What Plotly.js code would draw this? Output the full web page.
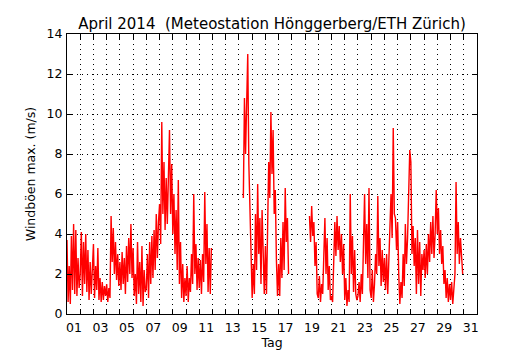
<!DOCTYPE html>
<html>
<head>
<meta charset="utf-8">
<script src="https://cdn.plot.ly/plotly-3.0.1.min.js"></script>
<style>html,body{margin:0;padding:0;background:#fff;}#chart{width:530px;height:350px;}</style>
</head>
<body>
<div id="chart"></div>
<script>
// Maximum wind gust (m/s), read every 2 hours, Apr 1 00:00 .. Apr 30 22:00 (null = no data)
const stepHours = 2;
const firstDay = 1;
const gustMax = [
  3.7, 0.6, 2.4, 0.5, 3.9, 1.2, 4.5, 1.0, 4.2, 0.9, 2.8, 1.3,   // 01
  2.0, 4.1, 0.9, 3.6, 1.5, 4.0, 1.1, 3.2, 0.7, 2.6, 1.0, 2.2,   // 02
  3.5, 0.8, 2.4, 1.2, 3.3, 0.7, 1.8, 0.6, 1.6, 0.7, 1.4, 0.9,   // 03
  1.5, 0.6, 1.3, 0.8, 4.9, 2.6, 4.3, 2.0, 3.6, 1.7, 3.0, 1.4,   // 04
  2.6, 1.2, 3.1, 1.5, 2.8, 1.0, 3.4, 1.6, 3.8, 2.0, 4.5, 1.8,   // 05
  3.3, 0.9, 2.0, 0.5, 3.6, 1.0, 2.6, 0.6, 3.4, 0.4, 2.2, 1.1,   // 06
  1.3, 3.0, 0.8, 3.6, 1.5, 3.9, 1.8, 4.2, 2.2, 5.0, 2.8, 4.6,   // 07
  5.5, 3.5, 9.6, 5.0, 7.6, 4.2, 6.8, 4.5, 7.2, 9.2, 5.0, 7.5,   // 08
  4.0, 6.0, 3.0, 5.2, 2.2, 6.7, 1.5, 3.6, 0.8, 2.5, 0.6, 1.8,   // 09
  0.9, 2.4, 0.6, 1.8, 1.1, 3.0, 1.5, 6.0, 2.0, 3.5, 1.2, 2.8,   // 10
  1.3, 2.7, 1.0, 3.0, 1.6, 6.1, 2.5, 4.5, 1.1, 3.3, 1.0, 3.3,   // 11
  null, null, null, null, null, null, null, null, null, null, null, null, // 12
  null, null, null, null, null, null, null, null, null, null, null, null, // 13
  null, null, null, null, 5.8, 10.8, 8.0, 11.5, 13.0, 7.5, 5.2, 2.0,   // 14
  0.8, 2.5, 1.0, 5.0, 2.2, 6.5, 3.0, 4.8, 1.5, 5.2, 2.6, 1.0,   // 15
  3.4, 1.0, 4.2, 7.6, 5.8, 10.1, 7.0, 9.2, 5.0, 6.2, 2.7, 0.9,  // 16
  2.5, 0.9, 3.8, 1.8, 4.6, 2.2, 6.3, 3.6, 4.8, 2.0, null, null, // 17
  null, null, null, null, null, null, null, null, null, null, null, null, // 18
  null, null, null, null, 4.9, 3.6, 5.4, 3.9, 4.6, 2.4, 3.6, 1.0,   // 19
  0.8, 1.9, 0.6, 1.5, 1.0, 2.6, 4.8, 2.0, 3.8, 1.2, 2.4, 0.7,   // 20
  0.9, 0.6, 3.0, 4.6, 2.9, 4.9, 3.2, 4.4, 2.6, 4.0, 2.0, 3.5,   // 21
  0.7, 1.8, 0.4, 1.2, 0.6, 6.0, 2.0, 3.9, 1.1, 3.2, 1.0, 0.7,   // 22
  0.9, 1.6, 0.6, 2.0, 1.0, 3.5, 6.0, 2.5, 4.5, 1.8, 6.3, 1.2,   // 23
  0.8, 2.2, 0.6, 1.5, 3.0, 2.0, 5.9, 2.4, 3.8, 1.4, 3.2, 1.6,   // 24
  2.8, 1.2, 3.0, 1.0, 2.5, 4.2, 6.0, 3.8, 9.3, 5.0, 4.8, 3.2,   // 25
  4.6, 2.0, 0.5, 1.6, 0.8, 3.0, 1.4, 4.5, 2.5, 3.8, 5.5, 8.2,   // 26
  7.6, 3.0, 4.4, 2.4, 3.8, 1.0, 4.2, 1.5, 3.6, 0.9, 3.0, 2.2,   // 27
  3.2, 1.8, 3.5, 2.0, 4.0, 2.6, 4.6, 3.0, 4.9, 2.8, 4.0, 6.2,   // 28
  4.0, 5.3, 3.0, 4.2, 2.5, 3.4, 1.5, 2.2, 0.8, 1.8, 0.6, 1.5,   // 29
  0.7, 1.6, 0.5, 1.2, 2.0, 6.6, 3.0, 4.6, 2.5, 3.8, 2.6, 2.0    // 30
];
const tickDays = [1,2,3,4,5,6,7,8,9,10,11,12,13,14,15,16,17,18,19,20,21,22,23,24,25,26,27,28,29,30,31];
const tickLabels = ["01","","03","","05","","07","","09","","11","","13","","15","","17","","19","","21","","23","","25","","27","","29","","31"];
const yTicks = [0,2,4,6,8,10,12,14];

const timeDays = gustMax.map((v, i) => firstDay + i * stepHours / 24);

const font = "DejaVu Sans, sans-serif";
const trace = {
  x: timeDays, y: gustMax, type: "scatter", mode: "lines",
  line: {color: "#ff0000", width: 1.4}, connectgaps: false, hoverinfo: "skip"
};
const layout = {
  width: 530, height: 350,
  margin: {l: 67, r: 53, t: 34, b: 36},
  paper_bgcolor: "#fff", plot_bgcolor: "#fff",
  showlegend: false,
  font: {family: font, size: 12.5, color: "#000"},
  title: {text: "April 2014\u00a0 (Meteostation Hönggerberg/ETH Zürich)", font: {family: font, size: 15, color: "#000"},
          x: 0.5, xref: "paper", y: 1, yref: "paper", xanchor: "center", yanchor: "bottom", pad: {b: 5}},
  xaxis: {
    range: [1, 32], tickmode: "array", tickvals: tickDays, ticktext: tickLabels,
    ticks: "inside", ticklen: 5, tickcolor: "#000", tickwidth: 1,
    showline: true, linecolor: "#000", linewidth: 1, mirror: "allticks",
    showgrid: true, gridcolor: "#000", gridwidth: 1, griddash: "1px,4px",
    zeroline: false, ticklabelshift: 7, ticklabelstandoff: 2,
    title: {text: "Tag", font: {family: font, size: 12.5}, standoff: 5}
  },
  yaxis: {
    range: [0, 14], tickmode: "array", tickvals: yTicks,
    ticks: "inside", ticklen: 5, tickcolor: "#000", tickwidth: 1,
    showline: true, linecolor: "#000", linewidth: 1, mirror: "allticks",
    showgrid: true, gridcolor: "#000", gridwidth: 1, griddash: "1px,4px",
    zeroline: false, ticklabelstandoff: 1,
    title: {text: "Windböen max. (m/s)", font: {family: font, size: 12.5}, standoff: 8}
  }
};
Plotly.newPlot("chart", [trace], layout, {staticPlot: true, displayModeBar: false});
</script>
</body>
</html>
